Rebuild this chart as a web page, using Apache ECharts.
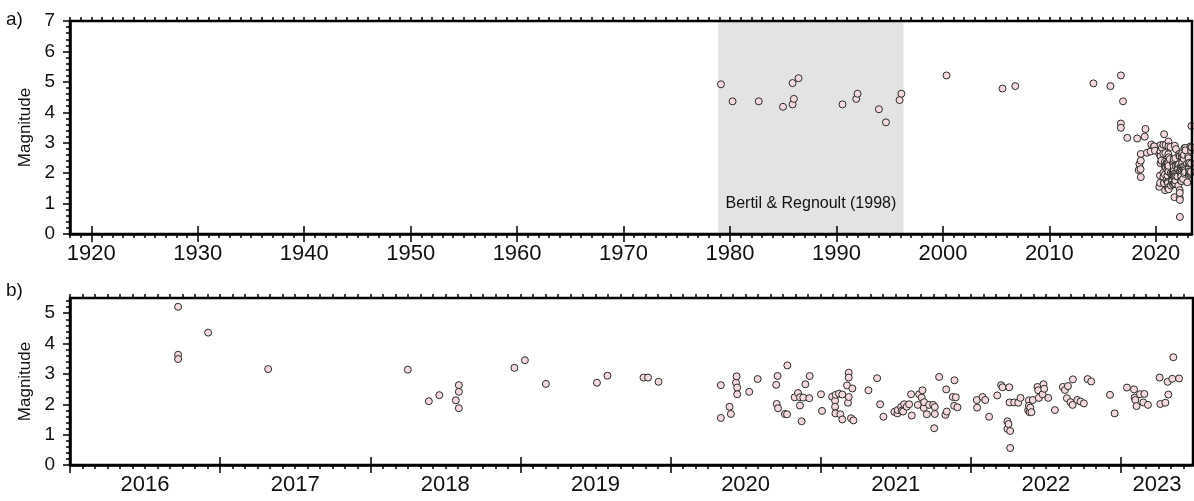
<!DOCTYPE html>
<html><head><meta charset="utf-8">
<script src="https://cdn.jsdelivr.net/npm/echarts@6/dist/echarts.min.js"></script>
<style>html,body{margin:0;padding:0;background:#fff}#c{width:1194px;height:501px}</style>
</head><body><div id="c"></div>
<script>
// ---- data ----
const historicYears = [1979.15,1980.24,1982.70,1984.98,1985.88,1985.88,1986.00,1986.44,1990.57,1991.86,1991.98,1993.99,1994.65,1995.93,1996.10,2000.34,2005.60,2006.80,2014.14,2015.74];
const historicMags  = [4.92,4.36,4.36,4.18,4.96,4.26,4.44,5.12,4.26,4.44,4.61,4.10,3.67,4.40,4.61,5.21,4.78,4.86,4.95,4.86];

const recentYears = [
 2016.72,2016.72,2016.72,2016.92,2017.32,2018.25,2018.39,2018.46,2018.57,2018.59,2018.59,2018.59,2018.96,2019.03,2019.17,2019.51,2019.58,2019.82,2019.85,2019.92,
 2020.335,2020.335,2020.393,2020.402,2020.436,2020.44,2020.444,2020.444,2020.524,2020.58,2020.704,2020.707,2020.713,2020.716,2020.762,2020.776,2020.778,2020.827,2020.849,2020.862,2020.862,2020.873,2020.884,2020.898,2020.924,2020.927,
 2021.002,2021.009,2021.076,2021.096,2021.096,2021.098,2021.1,2021.122,2021.131,2021.144,2021.144,2021.176,2021.182,2021.187,2021.187,2021.187,2021.202,2021.211,2021.218,2021.318,2021.376,2021.396,2021.418,2021.491,2021.511,2021.513,2021.536,2021.54,2021.549,2021.556,2021.573,2021.589,2021.602,2021.607,2021.647,2021.656,2021.673,2021.678,2021.687,2021.689,2021.707,2021.722,2021.749,2021.756,2021.76,2021.76,2021.789,
 2021.831,2021.836,2021.84,2021.88,2021.889,2021.891,2021.9,2021.911,2022.04,2022.042,2022.078,2022.096,2022.122,2022.176,2022.202,2022.211,2022.244,2022.244,2022.251,2022.256,2022.258,2022.262,2022.262,2022.289,2022.316,2022.331,2022.382,2022.387,2022.387,2022.391,2022.396,2022.404,2022.413,2022.444,2022.449,2022.453,2022.478,2022.484,2022.489,2022.516,2022.56,2022.613,2022.627,2022.64,2022.647,
 2022.664,2022.678,2022.68,2022.709,2022.731,2022.753,2022.778,2022.802,2022.927,2022.958,2023.04,2023.087,2023.091,2023.096,2023.104,2023.127,2023.149,2023.156,2023.18,2023.258,2023.262,2023.296,2023.311,2023.316,2023.342,2023.349,2023.387];
const recentMags = [
 5.21,3.63,3.49,4.36,3.16,3.14,2.10,2.30,2.13,2.63,2.41,1.87,3.20,3.45,2.67,2.71,2.94,2.88,2.88,2.74,
 2.63,1.55,1.92,1.68,2.71,2.92,2.55,2.33,2.41,2.83,2.64,2.01,2.93,1.87,1.68,1.67,3.28,2.23,2.37,2.23,1.96,1.44,2.22,2.66,2.20,2.93,
 2.33,1.78,2.25,2.12,1.92,1.70,2.31,2.35,1.67,2.32,1.50,2.62,2.05,3.04,2.88,2.24,1.54,2.52,1.47,2.46,2.86,2.00,1.59,1.75,1.70,1.81,1.91,1.79,1.76,2.00,1.92,2.00,2.33,1.63,1.98,2.33,2.22,2.46,1.88,2.07,1.67,1.98,1.98,1.21,1.91,1.68,2.90,
 1.65,2.49,1.76,2.24,1.95,2.79,2.23,1.90,2.14,1.89,2.24,2.14,1.59,2.29,2.63,2.56,1.44,1.19,1.35,2.56,2.06,1.12,0.56,2.06,2.05,2.21,1.80,2.13,1.95,1.74,1.89,1.74,2.14,2.57,2.46,2.21,2.33,2.66,2.51,2.21,1.81,2.57,2.47,2.20,2.60,
 2.07,1.98,2.82,2.14,2.09,2.03,2.83,2.75,2.31,1.70,2.55,2.49,2.22,2.14,1.94,2.33,2.06,2.34,1.98,2.88,2.01,2.05,2.74,2.32,2.84,3.55,2.85];

const decadeTicks = [1920,1930,1940,1950,1960,1970,1980,1990,2000,2010,2020];
const recentYearTicks = [2016,2017,2018,2019,2020,2021,2022,2023];
const magTicksA = [0,1,2,3,4,5,6,7];
const magTicksB = [0,1,2,3,4,5];
const catalogSpan = [1978.9, 1996.3];
const catalogLabel = 'Bertil & Regnoult (1998)';
const rangeA = [1918, 2023.4];
const rangeB = [2016, 2023.48];
const magRangeA = [0, 7];
const magRangeB = [0, 5.5];

// ---- build ----
const FONT = '"Liberation Sans", Arial, sans-serif';
const pair = (xs, ys) => xs.map((x, i) => [x, ys[i]]);
const allData = pair(historicYears, historicMags).concat(pair(recentYears, recentMags));
const recentData = pair(recentYears, recentMags);
function seq(a, b, step) { const out = []; for (let k = 0; a + k * step <= b + 1e-9; k++) out.push(+(a + k * step).toFixed(5)); return out; }

const minorA = seq(Math.ceil(rangeA[0]), Math.floor(rangeA[1]), 1);
const minorB = seq(rangeB[0], rangeB[1], 1 / 12);
const minorYA = seq(magRangeA[0], magRangeA[1], 0.2);
const minorYB = seq(magRangeB[0], magRangeB[1], 0.2);
const labelPosB = recentYearTicks.map(y => (Math.max(y, rangeB[0]) + Math.min(y + 1, rangeB[1])) / 2);

const tickStyle = { color: '#000', width: 1.5 };
function xAxes(grid, range, majors, minors, labelVals, fmt) {
  const base = { type: 'value', gridIndex: grid, min: range[0], max: range[1], z: 10,
    splitLine: { show: false }, axisLine: { show: false }, axisLabel: { show: false }, axisTick: { show: false } };
  return [
    Object.assign({}, base, { position: 'bottom',
      axisLine: { show: true, onZero: false, lineStyle: { color: '#000', width: 2.5 } },
      axisTick: { show: true, customValues: majors, length: 8, lineStyle: tickStyle },
      axisLabel: { show: true, customValues: labelVals, formatter: fmt, fontSize: 22, color: '#111', fontFamily: FONT, margin: 9 } }),
    Object.assign({}, base, { position: 'bottom', axisTick: { show: true, customValues: minors, length: 4, lineStyle: tickStyle } }),
    Object.assign({}, base, { position: 'top', axisTick: { show: true, customValues: majors, length: 8, lineStyle: tickStyle } }),
    Object.assign({}, base, { position: 'top', axisTick: { show: true, customValues: minors, length: 4, lineStyle: tickStyle } })
  ];
}
function yAxes(grid, range, majors, minors) {
  const base = { type: 'value', gridIndex: grid, min: range[0], max: range[1], position: 'left', z: 10,
    splitLine: { show: false }, axisLine: { show: false }, axisLabel: { show: false }, axisTick: { show: false } };
  return [
    Object.assign({}, base, {
      name: 'Magnitude', nameLocation: 'middle', nameGap: 36, nameRotate: 90,
      nameTextStyle: { fontSize: 17, color: '#111', fontFamily: FONT },
      axisLine: { show: true, onZero: false, lineStyle: { color: '#000', width: 2.5 } },
      axisTick: { show: true, customValues: majors, length: 7, lineStyle: tickStyle },
      axisLabel: { show: true, customValues: majors, fontSize: 19, color: '#111', fontFamily: FONT, margin: 15 } }),
    Object.assign({}, base, { axisTick: { show: true, customValues: minors, length: 4, lineStyle: tickStyle } })
  ];
}

const symbolStyle = { color: '#f4dadc', borderColor: '#2a2a2a', borderWidth: 1, opacity: 1 };

const option = {
  animation: false,
  backgroundColor: '#fff',
  title: [
    { text: 'a)', left: 6, top: 10, padding: 0, textStyle: { fontSize: 19, fontWeight: 'normal', color: '#111', fontFamily: FONT } },
    { text: 'b)', left: 6, top: 281, padding: 0, textStyle: { fontSize: 19, fontWeight: 'normal', color: '#111', fontFamily: FONT } }
  ],
  grid: [
    { left: 70, top: 21, width: 1122, height: 213, show: true, z: 10, backgroundColor: 'transparent', borderColor: '#000', borderWidth: 2.5 },
    { left: 70, top: 298, width: 1123, height: 167, show: true, z: 10, backgroundColor: 'transparent', borderColor: '#000', borderWidth: 2.5 }
  ],
  xAxis: xAxes(0, rangeA, decadeTicks, minorA, decadeTicks, v => String(Math.round(v)))
    .concat(xAxes(1, rangeB, recentYearTicks, minorB, labelPosB, v => String(Math.floor(v + 1e-6)))),
  yAxis: yAxes(0, magRangeA, magTicksA, minorYA).concat(yAxes(1, magRangeB, magTicksB, minorYB)),
  series: [
    { type: 'scatter', xAxisIndex: 0, yAxisIndex: 0, data: allData, symbol: 'circle', symbolSize: 7,
      itemStyle: symbolStyle, clip: false,
      markArea: { silent: true, itemStyle: { color: '#e3e3e3' },
        label: { show: true, position: 'insideBottom', distance: 22, fontSize: 16, color: '#111', fontFamily: FONT },
        data: [[{ name: catalogLabel, xAxis: catalogSpan[0] }, { xAxis: catalogSpan[1] }]] } },
    { type: 'scatter', xAxisIndex: 4, yAxisIndex: 2, data: recentData, symbol: 'circle', symbolSize: 7,
      itemStyle: symbolStyle, clip: false }
  ]
};
const chart = echarts.init(document.getElementById('c'), null, { renderer: 'canvas' });
chart.setOption(option);
</script>
</body></html>
